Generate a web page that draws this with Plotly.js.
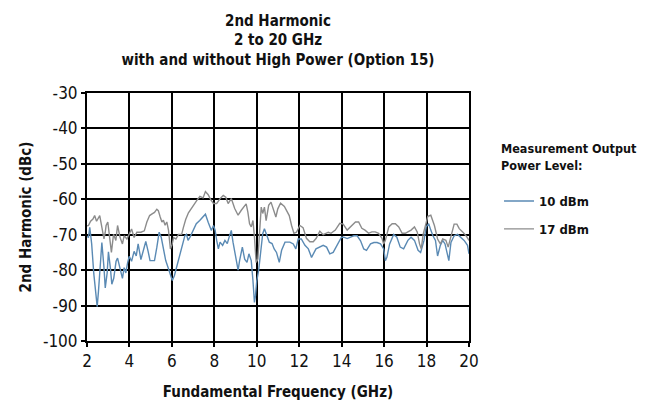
<!DOCTYPE html>
<html>
<head>
<meta charset="utf-8">
<script src="https://cdn.plot.ly/plotly-3.0.1.min.js"></script>
<style>html,body{margin:0;padding:0;background:#fff;}#chart{width:647px;height:406px;}</style>
</head>
<body>
<div id="chart"></div>
<script>
// 10 dBm series
const freq10 = [2.0,2.07,2.13,2.22,2.32,2.43,2.48,2.54,2.64,2.7,2.8,2.86,2.95,3.01,3.1,3.17,3.26,3.37,3.44,3.57,3.67,3.75,3.83,3.91,3.99,4.1,4.22,4.32,4.41,4.54,4.66,4.77,4.88,4.97,5.05,5.18,5.29,5.4,5.5,5.6,5.71,5.84,5.96,6.02,6.12,6.22,6.33,6.42,6.53,6.61,6.69,6.76,6.86,7.0,7.15,7.31,7.47,7.58,7.71,7.86,7.96,8.04,8.11,8.19,8.27,8.39,8.5,8.61,8.7,8.8,8.88,8.96,9.04,9.12,9.19,9.32,9.43,9.54,9.63,9.74,9.82,9.89,9.94,10.0,10.09,10.2,10.28,10.36,10.47,10.59,10.72,10.82,10.93,11.06,11.17,11.33,11.56,11.72,11.84,11.95,12.1,12.27,12.43,12.58,12.79,12.97,13.13,13.29,13.44,13.6,13.75,13.99,14.1,14.26,14.42,14.57,14.73,14.89,15.04,15.17,15.36,15.52,15.67,15.83,15.98,16.06,16.13,16.26,16.45,16.6,16.76,16.92,17.12,17.27,17.43,17.6,17.72,17.88,17.98,18.1,18.2,18.3,18.42,18.52,18.65,18.76,18.87,18.97,19.05,19.15,19.3,19.46,19.62,19.77,19.93,20.0];
const dbc10 = [-70.5,-70.7,-67.9,-72.6,-81,-87.7,-90.3,-86,-77,-72.2,-79.3,-85,-80.8,-74.8,-79.3,-84,-82.3,-77.5,-76.6,-80.3,-82.3,-79.3,-80.8,-78,-76.1,-77.5,-74.7,-76,-72.6,-77,-74.2,-71.9,-74.7,-77.3,-77.3,-77.3,-73.6,-69.3,-70.8,-74.5,-77.3,-79.6,-82,-82.9,-81.5,-79.2,-76.4,-74.5,-72.6,-70.3,-69.9,-71.6,-70.6,-68.8,-66.9,-66,-65.1,-64.2,-66.5,-68.8,-67.4,-68.8,-71.6,-74,-72.1,-73,-71.6,-72.5,-70.6,-68.8,-72.1,-74.9,-78.2,-80,-77.3,-73.5,-76.9,-77.8,-75.4,-77.3,-83,-89.1,-87.2,-83,-80,-73.5,-69.7,-68.3,-70.2,-72.1,-72.5,-74,-75,-77.8,-74.4,-72.1,-72.1,-72.6,-74,-71.2,-71.2,-73,-74,-76.4,-74,-73.5,-73,-73.5,-75.4,-75,-73.5,-70.7,-70.7,-71.1,-70.7,-70.3,-70.3,-71.7,-74,-74.4,-72.6,-72.2,-72.2,-72.6,-74,-77.3,-76.4,-72.6,-69.9,-70.7,-73.5,-74,-71.6,-70.7,-71.6,-74.4,-75,-71.6,-67.8,-66.9,-68.7,-70.3,-71.6,-76,-73,-71.6,-72.6,-75.4,-77.3,-72.2,-70.3,-69.9,-70.7,-71.6,-73,-75.4];

// 17 dBm series
const freq17 = [2.0,2.07,2.17,2.28,2.36,2.45,2.6,2.67,2.8,2.86,2.9,2.98,3.06,3.15,3.25,3.36,3.44,3.56,3.67,3.75,3.88,3.99,4.1,4.22,4.35,4.54,4.7,4.82,4.95,5.05,5.18,5.29,5.36,5.45,5.53,5.6,5.68,5.76,5.84,5.93,6.0,6.08,6.19,6.31,6.46,6.54,6.65,6.78,6.93,7.09,7.2,7.32,7.47,7.58,7.71,7.83,7.96,8.11,8.27,8.42,8.54,8.65,8.8,8.96,9.12,9.27,9.43,9.5,9.58,9.66,9.74,9.82,9.89,9.97,10.05,10.13,10.21,10.28,10.36,10.44,10.56,10.67,10.78,10.9,10.99,11.12,11.3,11.53,11.64,11.75,11.87,12.03,12.18,12.34,12.5,12.66,12.8,12.97,13.13,13.37,13.5,13.7,13.91,14.07,14.26,14.42,14.65,14.8,14.95,15.1,15.27,15.42,15.58,15.74,15.9,15.98,16.06,16.22,16.38,16.53,16.69,16.85,17.0,17.12,17.27,17.43,17.56,17.67,17.75,17.84,17.95,18.06,18.2,18.37,18.52,18.65,18.76,18.91,19.02,19.15,19.3,19.43,19.54,19.7,19.85,20.0];
const dbc17 = [-67.5,-67.4,-66.2,-65.6,-64.6,-66.2,-64.6,-67.4,-71.2,-69.3,-67.4,-66.4,-70.8,-75,-69.9,-71.6,-67.4,-70.8,-72.6,-70.3,-71.2,-69.9,-68.4,-70.8,-69.3,-69.3,-68.9,-66.4,-64.6,-64.2,-63.7,-62.8,-63.2,-65,-66.4,-65.9,-67.3,-66.4,-68.7,-74,-73,-70.8,-71.2,-69.9,-69.9,-68,-65.7,-63.8,-62.4,-61,-60.1,-59.2,-59.6,-57.8,-58.7,-60.1,-61.2,-61.2,-59.8,-58.9,-59.4,-61.2,-59.8,-62.6,-64.5,-63.1,-61.7,-61.3,-63.6,-66.9,-67.8,-66,-70.6,-77.8,-76.9,-67.8,-62.2,-64,-62.2,-66,-61.7,-60.8,-63.1,-65,-62.7,-61.1,-62,-64.6,-67.4,-69.6,-69.3,-67.4,-68,-71,-72,-72,-71,-69,-70,-69.3,-69.6,-68.7,-66.8,-67,-68.7,-67.8,-66.4,-66.4,-68.2,-68.7,-69.6,-69.2,-69.2,-69.6,-71,-72.6,-71.6,-67.8,-66.9,-66.9,-67.8,-69.6,-69.6,-69.2,-68.7,-67.8,-69.2,-72.6,-74,-69.9,-66.9,-64.8,-64.5,-67.4,-71.2,-72.6,-71.2,-71.6,-73.5,-70.3,-67,-67,-68.3,-69.2,-70.2,-71.6];

const seriesNames = ['10 dBm', '17 dBm'];
const xTickVals = [2,4,6,8,10,12,14,16,18,20];
const yTickVals = [-100,-90,-80,-70,-60,-50,-40,-30];

const FONT = '"DejaVu Sans Condensed", "Liberation Sans", sans-serif';

const traces = [
  {x: freq10, y: dbc10, name: '<b>' + seriesNames[0] + '</b>', type: 'scatter', mode: 'lines',
   line: {color: '#5a8ab4', width: 1.4}, legendgroup: 'a'},
  {x: freq17, y: dbc17, name: '<b>' + seriesNames[1] + '</b>', type: 'scatter', mode: 'lines',
   line: {color: '#8c8c8c', width: 1.4}, legendgroup: 'b'}
];

const axisCommon = {
  showgrid: true, gridcolor: '#000', gridwidth: 2,
  showline: true, linecolor: '#000', linewidth: 2, mirror: true,
  ticks: 'outside', ticklen: 4, tickwidth: 2, tickcolor: '#000',
  zeroline: false,
  tickfont: {family: FONT, size: 17, color: '#111'}
};

const layout = {
  width: 647, height: 406,
  margin: {l: 87, r: 178, t: 93, b: 65},
  paper_bgcolor: '#fff', plot_bgcolor: '#fff',
  font: {family: FONT, color: '#111'},
  title: {
    text: '<b>2nd Harmonic<br>2 to 20 GHz<br>with and without High Power (Option 15)</b>',
    font: {family: FONT, size: 15, color: '#111'},
    x: 0.5, xanchor: 'center', xref: 'paper',
    y: 0.936, yanchor: 'top', yref: 'container'
  },
  xaxis: Object.assign({}, axisCommon, {
    range: [2, 20], tickvals: xTickVals, ticktext: xTickVals.map(String),
    title: {text: '<b>Fundamental Frequency (GHz)</b>', font: {family: FONT, size: 15, color: '#111'}, standoff: 16}
  }),
  yaxis: Object.assign({}, axisCommon, {
    range: [-100, -30], tickvals: yTickVals, ticktext: yTickVals.map(String),
    title: {text: '<b>2nd Harmonic (dBc)</b>', font: {family: FONT, size: 15, color: '#111'}, standoff: 8}
  }),
  showlegend: true,
  legend: {
    xref: 'container', yref: 'container',
    x: 0.7713, xanchor: 'left', y: 0.662, yanchor: 'top',
    title: {text: '<b>Measurement Output<br>Power Level:</b><br> ', font: {family: FONT, size: 12.5, color: '#111'}},
    font: {family: FONT, size: 13, color: '#111'},
    traceorder: 'grouped', tracegroupgap: 8,
    bgcolor: 'rgba(0,0,0,0)', itemwidth: 30
  }
};

Plotly.newPlot('chart', traces, layout, {displayModeBar: false, staticPlot: true});
</script>
</body>
</html>
